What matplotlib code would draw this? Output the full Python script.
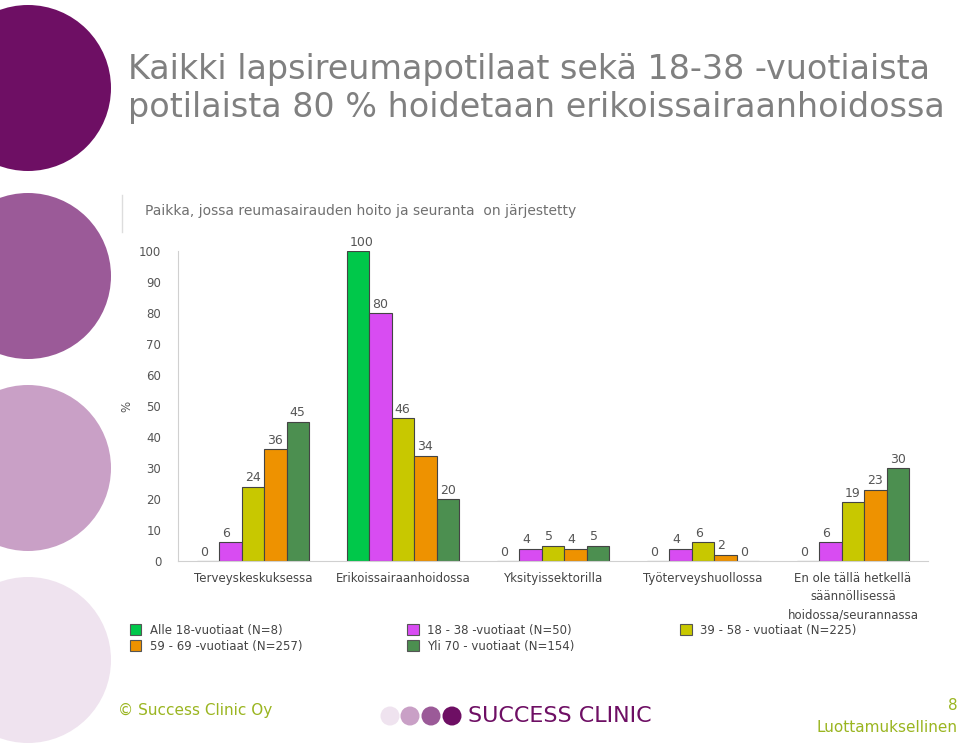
import numpy as np
import matplotlib
matplotlib.use("Agg")
import matplotlib.pyplot as plt
from matplotlib.patches import Circle, Patch

# data
categories = ["Terveyskeskuksessa", "Erikoissairaanhoidossa", "Yksityissektorilla",
              "Työterveyshuollossa", "En ole tällä hetkellä\nsäännöllisessä\nhoidossa/seurannassa"]
series_names = ["Alle 18-vuotiaat (N=8)", "18 - 38 -vuotiaat (N=50)", "39 - 58 - vuotiaat (N=225)",
                "59 - 69 -vuotiaat (N=257)", "Yli 70 - vuotiaat (N=154)"]
alle18 = [0, 100, 0, 0, 0]
v18_38 = [6, 80, 4, 4, 6]
v39_58 = [24, 46, 5, 6, 19]
v59_69 = [36, 34, 4, 2, 23]
yli70 = [45, 20, 5, 0, 30]
yticks = list(range(0, 101, 10))

series = [alle18, v18_38, v39_58, v59_69, yli70]
colors = ["#00c84a", "#d84cf2", "#c8c800", "#ee9200", "#4c8f50"]

fig = plt.figure(figsize=(9.6, 7.44), dpi=100)

# background decoration in pixel coordinates
bg = fig.add_axes([0, 0, 1, 1], zorder=0)
bg.set_xlim(0, 960)
bg.set_ylim(744, 0)
bg.axis("off")
for cy, col in [(88, "#6e0f64"), (276, "#9b5a98"), (468, "#c9a0c6"), (660, "#efe3ef")]:
    bg.add_patch(Circle((28, cy), 83, color=col, lw=0))
bg.plot([122, 122], [195, 232], color="#dddddd", lw=1)
for cx, col in [(390, "#efe3ef"), (410, "#c9a0c6"), (431, "#9b5a98"), (452, "#6e0f64")]:
    bg.add_patch(Circle((cx, 716), 9.5, color=col, lw=0))

fig.text(128 / 960, 1 - 70 / 744, "Kaikki lapsireumapotilaat sekä 18-38 -vuotiaista",
         fontsize=24, color="#808080", va="center")
fig.text(128 / 960, 1 - 108 / 744, "potilaista 80 % hoidetaan erikoissairaanhoidossa",
         fontsize=24, color="#808080", va="center")
fig.text(145 / 960, 1 - 211 / 744, "Paikka, jossa reumasairauden hoito ja seuranta  on järjestetty",
         fontsize=10, color="#707070", va="center")

# chart
ax = fig.add_axes([178 / 960, (744 - 561) / 744, 750 / 960, 310 / 744], zorder=2)
ax.patch.set_alpha(0)
x = np.arange(len(categories))
w = 0.15
for i, (vals, col) in enumerate(zip(series, colors)):
    pos = x + (i - 2) * w
    ax.bar(pos, vals, width=w, color=col, edgecolor="#444444", linewidth=0.8)
    for p, v in zip(pos, vals):
        ax.text(p - w / 2 + 0.02, v + 0.8, str(v), ha="left", va="bottom",
                fontsize=9, color="#555555")

ax.set_xlim(-0.5, 4.5)
ax.set_ylim(0, 100)
ax.set_yticks(yticks)
ax.set_xticks(x)
ax.set_xticklabels(categories, fontsize=8.5, color="#444444", linespacing=1.5, va="top")
ax.tick_params(axis="x", length=0, pad=8)
ax.tick_params(axis="y", length=0, pad=12, labelsize=8.5, labelcolor="#555555")
ax.set_ylabel("%", fontsize=8.5, color="#555555", labelpad=4)
for s in ["top", "right"]:
    ax.spines[s].set_visible(False)
for s in ["left", "bottom"]:
    ax.spines[s].set_color("#d0d0d0")

# legend (column-major order)
order = [0, 3, 1, 4, 2]
handles = [Patch(facecolor=colors[k], edgecolor="#555555", linewidth=0.8) for k in order]
labels = [series_names[k] for k in order]
fig.legend(handles, labels, ncol=3, loc="upper left", bbox_to_anchor=(119 / 960, 1 - 613 / 744),
           frameon=False, fontsize=8.5, handlelength=1.0, handleheight=1.0, handletextpad=0.7,
           columnspacing=8.9, labelspacing=0.25, labelcolor="#444444")

# footer
green = "#9ab520"
fig.text(118 / 960, 1 - 710 / 744, "© Success Clinic Oy", fontsize=11, color=green, va="center")
fig.text(468 / 960, 1 - 716 / 744, "SUCCESS CLINIC", fontsize=16, color="#6e0f64", va="center")
fig.text(958 / 960, 1 - 706 / 744, "8", fontsize=11, color=green, va="center", ha="right")
fig.text(958 / 960, 1 - 727 / 744, "Luottamuksellinen", fontsize=11, color=green, va="center", ha="right")

fig.savefig("out.png", dpi=100)
